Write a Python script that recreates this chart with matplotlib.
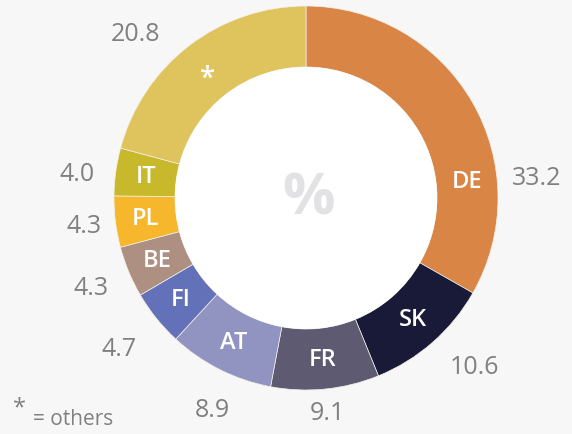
import numpy as np
import matplotlib
matplotlib.use("Agg")
import matplotlib.pyplot as plt
from matplotlib.patches import Circle

countries = ["DE", "SK", "FR", "AT", "FI", "BE", "PL", "IT", "*"]
values = [33.2, 10.6, 9.1, 8.9, 4.7, 4.3, 4.3, 4.0, 20.8]
value_labels = ["33.2", "10.6", "9.1", "8.9", "4.7", "4.3", "4.3", "4.0", "20.8"]
colors = ["#d98545", "#191938", "#5e5a72", "#9194c0", "#6372b8",
          "#ad9082", "#f6b72c", "#c7b82c", "#dfc35c"]

# label placement tweaks (degrees clockwise from top, radius in px)
name_angle_override = {"DE": 84}
name_nudge_y = {"*": -8}
value_angle_override = {"DE": 85, "SK": 135, "AT": 204, "IT": 276, "*": 314}
value_radius = {"DE": 232, "SK": 238, "FR": 216, "AT": 231, "FI": 240,
                "BE": 233, "PL": 224, "IT": 230, "*": 237}

W, H = 572, 435
fig = plt.figure(figsize=(W / 100, H / 100), dpi=100)
fig.patch.set_facecolor("#f7f7f7")
ax = fig.add_axes([0, 0, 1, 1])

cx, cy = 306, 236
R, width = 192, 61
ax.pie(values, colors=colors, startangle=90, counterclock=False,
       radius=R, center=(cx, cy), frame=True,
       wedgeprops=dict(width=width, edgecolor="#f4f0e8", linewidth=0.5))
ax.set_xlim(0, W)
ax.set_ylim(0, H)
ax.set_aspect("equal")
ax.axis("off")
ax.add_patch(Circle((cx, cy), R - width, facecolor="white", edgecolor="none", zorder=3))

font = "Open Sans"
total = sum(values)
cum = np.cumsum([0] + values[:-1])
for name, v, c0, vl in zip(countries, values, cum, value_labels):
    mid = (c0 + v / 2) / total * 360
    a = np.deg2rad(name_angle_override.get(name, mid))
    r = R - width / 2
    ax.text(cx + r * np.sin(a), cy + r * np.cos(a) + name_nudge_y.get(name, 0), name,
            color="white", fontsize=17 if name != "*" else 20, fontweight="semibold",
            family=font, ha="center", va="center", zorder=4)
    a2 = np.deg2rad(value_angle_override.get(name, mid))
    r2 = value_radius[name]
    ax.text(cx + r2 * np.sin(a2), cy + r2 * np.cos(a2), vl, color="#808080",
            fontsize=18, family=font, ha="center", va="center", zorder=4)

ax.text(cx + 2, cy - 1, "%", color="#e2e2e4", fontsize=42, fontweight="bold",
        family=font, ha="center", va="center", zorder=4)

ax.text(19, H - 408, "*", color="#808080", fontsize=17, family=font,
        ha="center", va="center")
ax.text(33, H - 420, "= others", color="#808080", fontsize=15, family=font,
        ha="left", va="center")

fig.savefig("out.png", dpi=100, facecolor=fig.get_facecolor())
